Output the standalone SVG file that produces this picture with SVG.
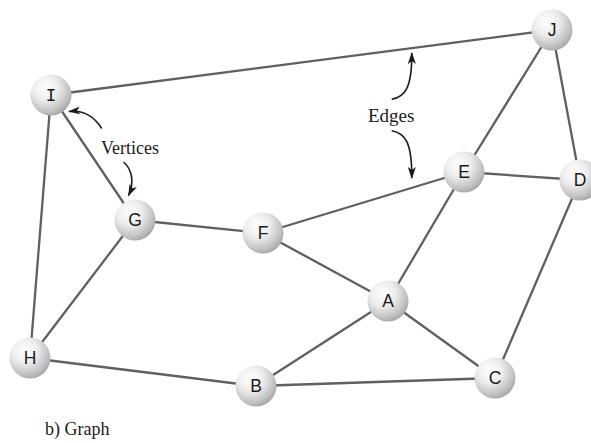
<svg xmlns="http://www.w3.org/2000/svg" width="591" height="443" viewBox="0 0 591 443">
<defs>
<radialGradient id="ball" cx="0.38" cy="0.34" r="0.7" fx="0.36" fy="0.3">
<stop offset="0" stop-color="#ffffff"/>
<stop offset="0.45" stop-color="#ececec"/>
<stop offset="0.85" stop-color="#bdbdbd"/>
<stop offset="1" stop-color="#a4a4a4"/>
</radialGradient>
<marker id="ah" viewBox="0 0 12 8" refX="11" refY="4" markerWidth="12" markerHeight="8" markerUnits="userSpaceOnUse" orient="auto">
<path d="M0,0 L12,4 L0,8 L3,4 z" fill="#1a1a1a"/>
</marker>
<style>
.edge{stroke:#606060;stroke-width:2.3;fill:none;stroke-linecap:round}
.node circle{fill:url(#ball)}
.node text{font-family:"Liberation Sans",Arial,sans-serif;font-size:17.5px;fill:#1a1a1a;text-anchor:middle}
.node text.mono{font-family:"Liberation Mono","DejaVu Sans Mono",monospace}
.ann{font-family:"Liberation Serif","Times New Roman",serif;font-size:18px;fill:#1a1a1a}
.pointer{stroke:#1a1a1a;stroke-width:1.6;fill:none;marker-end:url(#ah)}
</style>
</defs>
<rect width="591" height="443" fill="#ffffff"/>
<g id="connectors">
<line class="edge" x1="51" y1="95" x2="552" y2="30"/>
<line class="edge" x1="51" y1="95" x2="135" y2="220"/>
<line class="edge" x1="51" y1="95" x2="30" y2="358"/>
<line class="edge" x1="135" y1="220" x2="263" y2="233"/>
<line class="edge" x1="135" y1="220" x2="30" y2="358"/>
<line class="edge" x1="263" y1="233" x2="464" y2="172"/>
<line class="edge" x1="263" y1="233" x2="388" y2="301"/>
<line class="edge" x1="464" y1="172" x2="552" y2="30"/>
<line class="edge" x1="464" y1="172" x2="580" y2="180"/>
<line class="edge" x1="464" y1="172" x2="388" y2="301"/>
<line class="edge" x1="552" y1="30" x2="580" y2="180"/>
<line class="edge" x1="580" y1="180" x2="495" y2="378"/>
<line class="edge" x1="388" y1="301" x2="256" y2="386"/>
<line class="edge" x1="388" y1="301" x2="495" y2="378"/>
<line class="edge" x1="30" y1="358" x2="256" y2="386"/>
<line class="edge" x1="256" y1="386" x2="495" y2="378"/>
</g>
<g id="annotations">
<path class="pointer" d="M101.7,128.5 C94,116 84,110 69,111.5"/>
<path class="pointer" d="M123.5,162 C133,170 134,184 128.5,195.5"/>
<path class="pointer" d="M391.7,99.3 C405,97 412,88 411.8,53"/>
<path class="pointer" d="M391.7,130.7 C405,133 412,142 411.8,178"/>
<text class="ann" x="101" y="153.5">Vertices</text>
<text class="ann" x="368" y="121.7" style="font-size:19px">Edges</text>
<text class="ann" x="45" y="435">b) Graph</text>
</g>
<g id="node-I" class="node"><circle cx="51" cy="95" r="20.5"/><text class="mono" x="51" y="101">I</text></g>
<g id="node-J" class="node"><circle cx="552" cy="30" r="20.5"/><text x="552" y="36">J</text></g>
<g id="node-E" class="node"><circle cx="464" cy="172" r="20.5"/><text x="464" y="178">E</text></g>
<g id="node-D" class="node"><circle cx="580" cy="180" r="20.5"/><text x="580" y="186">D</text></g>
<g id="node-G" class="node"><circle cx="135" cy="220" r="20.5"/><text x="135" y="226">G</text></g>
<g id="node-F" class="node"><circle cx="263" cy="233" r="20.5"/><text x="263" y="239">F</text></g>
<g id="node-A" class="node"><circle cx="388" cy="301" r="20.5"/><text x="388" y="307">A</text></g>
<g id="node-H" class="node"><circle cx="30" cy="358" r="20.5"/><text x="30" y="364">H</text></g>
<g id="node-B" class="node"><circle cx="256" cy="386" r="20.5"/><text x="256" y="392">B</text></g>
<g id="node-C" class="node"><circle cx="495" cy="378" r="20.5"/><text x="495" y="384">C</text></g>
</svg>
